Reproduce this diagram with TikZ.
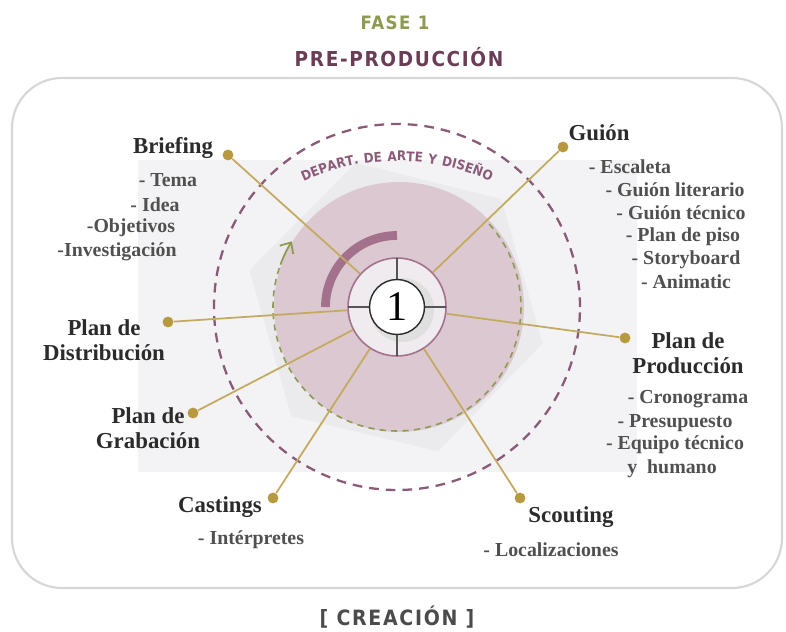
\documentclass[tikz,border=0pt]{standalone}
\usepackage{fontspec}
\setmainfont{Liberation Serif}
\newfontfamily\squarefont[LetterSpace=8]{DejaVu Sans Condensed}
\usetikzlibrary{arrows.meta,decorations.text,positioning}
\definecolor{fasegreen}{HTML}{8C9B50}
\definecolor{preplum}{HTML}{6B3C55}
\definecolor{plumdash}{HTML}{8A5A78}
\definecolor{plumarc}{HTML}{A3718B}
\definecolor{discpink}{HTML}{DCC8D0}
\definecolor{linegold}{HTML}{C3AA5F}
\definecolor{dotgold}{HTML}{B8993F}
\definecolor{headgray}{HTML}{2B2B2B}
\definecolor{itemgray}{HTML}{505050}
\definecolor{panelgray}{HTML}{F3F3F5}
\definecolor{hexgray}{HTML}{EBEBEE}
\definecolor{framegray}{HTML}{D6D6D8}
\definecolor{ringfill}{HTML}{EFEBEF}
\begin{document}
\begin{tikzpicture}[x=0.02cm,y=-0.02cm,
    head/.style={font=\fontsize{13}{14.5}\selectfont\bfseries, text=headgray, inner sep=0pt, align=center},
    item/.style={font=\fontsize{11.3}{13}\selectfont\bfseries, text=itemgray, inner sep=0pt},
    dot/.style={circle, fill=dotgold, minimum size=6.2pt, inner sep=0pt},
    link/.style={linegold, line width=1pt},
    title/.style={font=\squarefont\bfseries, inner sep=0pt}
    ]
    \useasboundingbox (0,0) rectangle (786,631);
    % titles
    \node[title, font=\squarefont\bfseries\fontsize{10.5}{12}\selectfont, text=fasegreen] (fase) at (395,23) {FASE 1};
    \node[title, font=\squarefont\bfseries\fontsize{11.7}{13}\selectfont, text=preplum] (pre) at (399,57) {PRE-PRODUCCIÓN};
    \node[title, font=\squarefont\bfseries\fontsize{12}{13}\selectfont, text=headgray!85] (creacion) at (397,617) {[ CREACIÓN ]};
    % frame and background
    \draw[framegray, line width=1.2pt, rounded corners=1cm] (12,78) rectangle (782,588);
    \fill[panelgray] (138,160) rectangle (637,472);
    \begin{scope}[shift={(397,307)}, x=0.02cm, y=0.02cm]
        \fill[hexgray] (166:152) -- (106:150) -- (46:150) -- (-14:150) -- (-74:150) -- (-134:152) -- cycle;
        \fill[discpink] (2,0) circle[radius=125];
        \draw[plumdash, line width=1.3pt, dash pattern=on 5.5pt off 4pt] (0,0) circle[radius=183];
        \draw[fasegreen, line width=0.9pt, dash pattern=on 3.5pt off 3pt] (42:124) arc[start angle=42, end angle=-200, radius=124];
        \draw[fasegreen, line width=1pt, -{Straight Barb[length=5pt,width=9pt]}] (160:124) arc[start angle=160, end angle=148, radius=124];
        \path[decorate, decoration={text along path, text align=center,
            text={|\squarefont\bfseries\fontsize{7.6}{9}\selectfont\color{plumdash}|DEPART. DE ARTE Y DISEÑO}}]
            (0,-80) ++(116:226) arc[start angle=116, end angle=64, radius=226];
        \draw[plumarc, line width=5pt] (90:71.5) arc[start angle=90, end angle=180, radius=71.5];
    \end{scope}
    % center
    \node[circle, draw=plumarc, fill=ringfill, line width=0.9pt, minimum size=1.96cm, inner sep=0pt] (ring) at (397,307) {};
    \fill[gray!25] (402,310) circle[radius=32];
    \draw[headgray!80, line width=0.9pt] (397,258) -- (397,356) (348,307) -- (446,307);
    \node[circle, draw=headgray, fill=white, line width=0.8pt, minimum size=1.1cm, inner sep=0pt,
        font=\fontsize{24}{24}\selectfont] (one) at (397,307) {1};
    % dots
    \node[dot] (bdot) at (228,155) {};
    \node[dot] (gdot) at (563,147) {};
    \node[dot] (pdot) at (625,338) {};
    \node[dot] (sdot) at (520,498) {};
    \node[dot] (cdot) at (273,498) {};
    \node[dot] (grdot) at (193,413) {};
    \node[dot] (ddot) at (168,322) {};
    \foreach \d in {bdot,gdot,pdot,sdot,cdot,grdot,ddot}
        \draw[link] (\d) -- (ring);
    % labels
    \node[head] (briefing) at (173,148) {Briefing};
    \node[item] (b1) at (168,180) {- Tema};
    \node[item] (b2) at (155,205) {- Idea};
    \node[item] (b3) at (131,228) {-Objetivos};
    \node[item] (b4) at (117,252) {-Investigación};
    \node[head] (guion) at (599,133) {Guión};
    \node[item] (g1) at (630,167) {- Escaleta};
    \node[item] (g2) at (675,190) {- Guión literario};
    \node[item] (g3) at (681,213) {- Guión técnico};
    \node[item] (g4) at (683,237) {- Plan de piso};
    \node[item] (g5) at (686,260) {- Storyboard};
    \node[item] (g6) at (686,282) {- Animatic};
    \node[head] (produccion) at (688,353) {Plan de\\Producción};
    \node[item] (p1) at (688,399) {- Cronograma};
    \node[item] (p2) at (675,423) {- Presupuesto};
    \node[item] (p3) at (675,445) {- Equipo técnico};
    \node[item] (p4) at (672,469) {y\ \ humano};
    \node[head] (distribucion) at (104,340) {Plan de\\Distribución};
    \node[head] (grabacion) at (148,428) {Plan de\\Grabación};
    \node[head] (castings) at (220,507) {Castings};
    \node[item] (c1) at (251,540) {- Intérpretes};
    \node[head] (scouting) at (571,517) {Scouting};
    \node[item] (s1) at (551,550) {- Localizaciones};
\end{tikzpicture}
\end{document}
